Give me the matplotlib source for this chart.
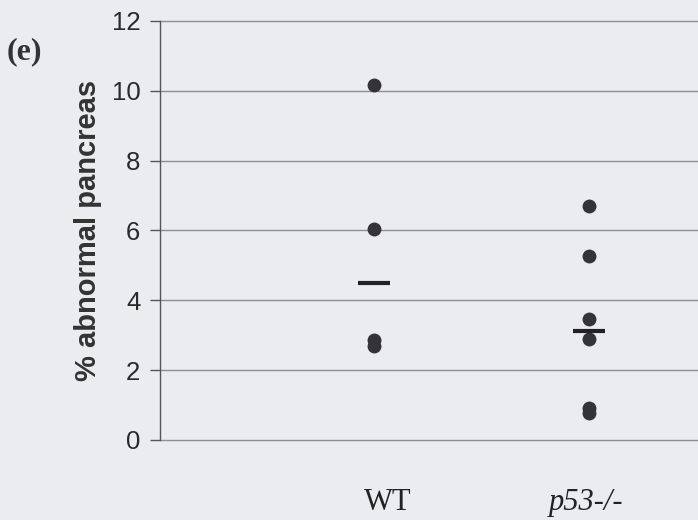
import numpy as np
import matplotlib.pyplot as plt

groups = ['WT', 'p53-/-']
wt_values = [10.15, 6.05, 2.85, 2.68]
p53_values = [6.7, 5.27, 3.45, 2.88, 0.92, 0.78]
group_means = [4.5, 3.12]
y_ticks = [0, 2, 4, 6, 8, 10, 12]

bg = '#eaecf0'
fig = plt.figure(figsize=(6.98, 5.20), dpi=100, facecolor=bg)
ax = fig.add_axes([0.229, 0.154, 0.771, 0.806], facecolor=bg)

positions = [1, 2]
for pos, vals in zip(positions, [wt_values, p53_values]):
    ax.plot([pos] * len(vals), vals, 'o', color='#333338', markersize=10,
            markeredgewidth=0, zorder=3)

ax.hlines(group_means, [p - 0.075 for p in positions], [p + 0.075 for p in positions],
          color='#222226', linewidth=3, zorder=4)

ax.set_xlim(0, 2.51)
ax.set_ylim(0, 12)
ax.set_yticks(y_ticks)
ax.set_yticklabels([str(t) for t in y_ticks], fontsize=18.5, family='Liberation Sans',
                   color='#2a2a2a')
ax.yaxis.grid(True, color='#8e8e92', linewidth=1)
for gl in ax.get_ygridlines():
    gl.set_clip_on(False)
ax.set_axisbelow(True)
ax.tick_params(axis='y', length=7, width=1, color='#555555', pad=7)
ax.set_xticks([])

for s in ['top', 'right', 'bottom']:
    ax.spines[s].set_visible(False)
ax.spines['left'].set_color('#555555')
ax.spines['left'].set_linewidth(1)

ax.set_ylabel('% abnormal pancreas', fontsize=21, fontweight='bold',
              family='Liberation Sans', color='#333333', labelpad=7)

# group labels sit a little off the dot columns in the original
ax.text(positions[0] + 0.065, -1.78, groups[0], ha='center', va='center', fontsize=22,
        family='Liberation Serif', color='#222222')
ax.text(positions[1] - 0.01, -1.78, groups[1], ha='center', va='center', fontsize=22,
        family='Liberation Serif', style='italic', color='#222222')

fig.text(0.009, 0.9, '(e)', fontsize=23, fontweight='bold',
         family='Liberation Serif', color='#333333', va='center')

fig.savefig('out.png', dpi=100, facecolor=bg)
